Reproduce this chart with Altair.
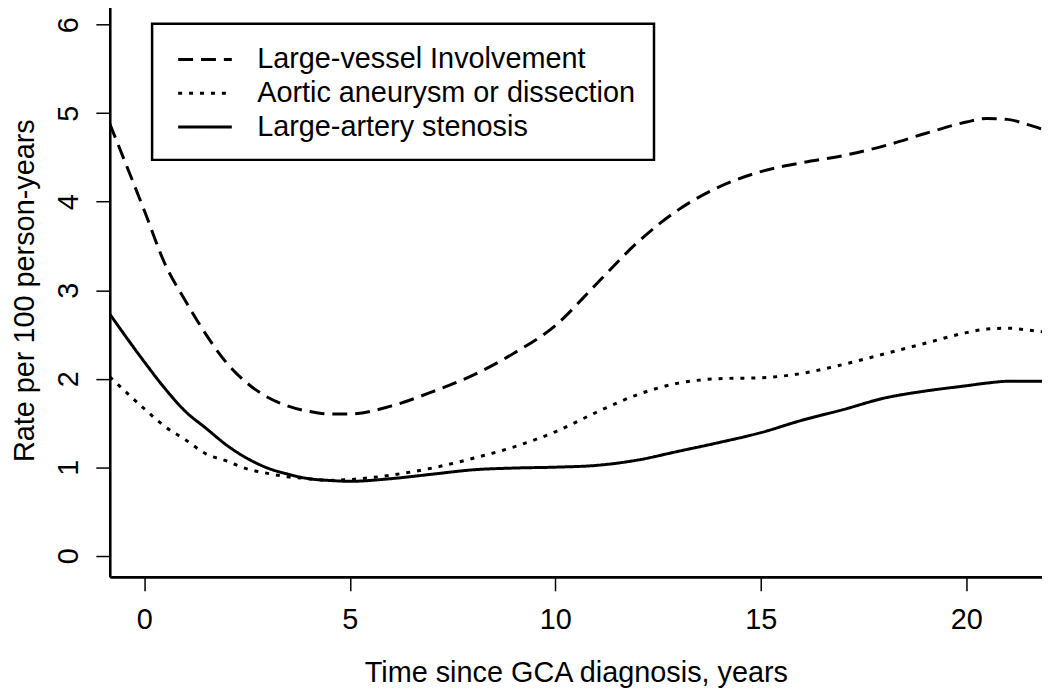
import altair as alt
import pandas as pd

# ---- data ----
t = [-0.84, 0, 0.5, 1, 1.5, 2, 2.5, 3, 3.5, 4, 4.5, 5, 6, 7, 8, 9, 10, 11,
     12, 13, 14, 15, 16, 17, 18, 19, 20, 20.5, 21, 21.5, 21.84]

large_vessel = [4.88, 3.90, 3.30, 2.88, 2.50, 2.18, 1.95, 1.79, 1.69, 1.63, 1.60, 1.60,
                1.69, 1.85, 2.04, 2.29, 2.60, 3.07, 3.54, 3.91, 4.17, 4.34, 4.44, 4.52,
                4.63, 4.77, 4.90, 4.94, 4.93, 4.87, 4.82]

aortic = [2.02, 1.66, 1.46, 1.31, 1.15, 1.07, 0.98, 0.93, 0.89, 0.87, 0.85, 0.86,
          0.91, 0.99, 1.10, 1.23, 1.40, 1.62, 1.82, 1.95, 2.00, 2.01, 2.06, 2.16,
          2.28, 2.40, 2.52, 2.56, 2.57, 2.55, 2.53]

stenosis = [2.73, 2.19, 1.89, 1.63, 1.44, 1.25, 1.10, 0.99, 0.92, 0.87, 0.85, 0.84,
            0.87, 0.92, 0.97, 0.99, 1.00, 1.02, 1.08, 1.18, 1.28, 1.39, 1.53, 1.65,
            1.78, 1.86, 1.92, 1.95, 1.97, 1.97, 1.97]

series_names = ["Large-vessel Involvement", "Aortic aneurysm or dissection",
                "Large-artery stenosis"]
x_ticks = [0, 5, 10, 15, 20]
y_ticks = [0, 1, 2, 3, 4, 5, 6]

n = len(t)
df = pd.DataFrame({
    "t": t * 3,
    "rate": large_vessel + aortic + stenosis,
    "series": [series_names[0]] * n + [series_names[1]] * n + [series_names[2]] * n,
})

FONT = "Liberation Sans"
FS = 29

chart = alt.Chart(df).mark_line(
    clip=True, color="black", strokeWidth=3, interpolate="monotone"
).encode(
    x=alt.X("t:Q",
            scale=alt.Scale(domain=[-0.84, 21.84], nice=False, zero=False),
            axis=alt.Axis(values=x_ticks, title="Time since GCA diagnosis, years",
                          labelBaseline="alphabetic", labelPadding=37.6,
                          labelFlush=False, labelOverlap=False,
                          titleY=105.6, titleBaseline="alphabetic")),
    y=alt.Y("rate:Q",
            scale=alt.Scale(domain=[-0.24, 6.24], nice=False, zero=False),
            axis=alt.Axis(values=y_ticks, title="Rate per 100 person-years",
                          labelAngle=270, labelAlign="center",
                          labelBaseline="alphabetic", labelPadding=18.4,
                          labelFlush=False, labelOverlap=False,
                          titleX=-77, titleAngle=270, titleBaseline="alphabetic")),
    strokeDash=alt.StrokeDash(
        "series:N",
        scale=alt.Scale(domain=series_names, range=[[15, 8], [4, 7], [1, 0]]),
        legend=alt.Legend(
            title=None, orient="none", legendX=42.6, legendY=20.4,
            padding=18, strokeColor="black",
            symbolType="M-1.636,0H1.636", symbolSize=1089,
            symbolStrokeWidth=3, symbolStrokeColor="black",
            symbolFillColor="transparent", symbolOffset=17.2,
            labelFont=FONT, labelFontSize=FS, labelColor="black",
            labelOffset=34.5, labelLimit=1000, rowPadding=1,
        ),
    ),
).properties(
    width=938, height=577,
    autosize=alt.AutoSizeParams(type="none"),
    padding={"left": 102.4, "top": -6.7, "right": 0, "bottom": 112.7},
).configure_view(
    stroke=None
).configure_axis(
    grid=False, domainColor="black", domainWidth=2.6,
    tickColor="black", tickWidth=1.5, tickSize=14,
    labelFont=FONT, labelFontSize=FS, labelColor="black",
    titleFont=FONT, titleFontSize=FS, titleFontWeight="normal", titleColor="black",
).configure_legend(
    strokeWidth=2.5
)

chart.save("out.html", embed_options={"renderer": "svg", "actions": False})
